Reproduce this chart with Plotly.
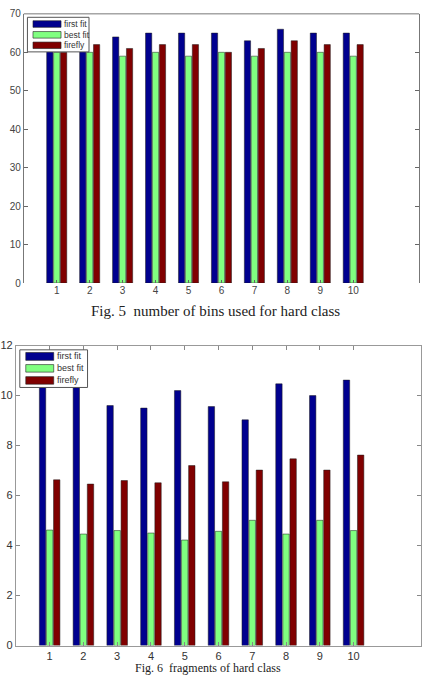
import plotly.graph_objects as go

W, H = 431, 681

groups = [1, 2, 3, 4, 5, 6, 7, 8, 9, 10]
series_names = ["first fit", "best fit", "firefly"]
series_colors = ["#00008F", "#80FF80", "#800000"]

# Fig. 5: number of bins used for hard class
bins_first = [64, 65, 64, 65, 65, 65, 63, 66, 65, 65]
bins_best = [60, 60, 59, 60, 59, 60, 59, 60, 60, 59]
bins_firefly = [60, 62, 61, 62, 62, 60, 61, 63, 62, 62]

# Fig. 6
frag_first = [10.6, 10.8, 9.6, 9.5, 10.2, 9.56, 9.03, 10.47, 10.0, 10.62]
frag_best = [4.62, 4.46, 4.6, 4.5, 4.22, 4.57, 5.01, 4.46, 5.01, 4.6]
frag_firefly = [6.63, 6.46, 6.6, 6.51, 7.2, 6.55, 7.02, 7.47, 7.02, 7.62]

top_yticks = [0, 10, 20, 30, 40, 50, 60, 70]
bot_yticks = [0, 2, 4, 6, 8, 10, 12]

caption1 = "Fig. 5  number of bins used for hard class"
caption2 = "Fig. 6  fragments of hard class"


def px(x):
    return x / W


def py(y):
    return 1 - y / H


fig = go.Figure()

top_data = [bins_first, bins_best, bins_firefly]
bot_data = [frag_first, frag_best, frag_firefly]

for name, color, vals in zip(series_names, series_colors, top_data):
    fig.add_trace(go.Bar(x=groups, y=vals, name=name, marker_color=color,
                         marker_line=dict(color="#1a1a1a", width=0.5),
                         xaxis="x", yaxis="y", showlegend=False))
for name, color, vals in zip(series_names, series_colors, bot_data):
    fig.add_trace(go.Bar(x=groups, y=vals, name=name, marker_color=color,
                         marker_line=dict(color="#1a1a1a", width=0.5),
                         xaxis="x2", yaxis="y2", showlegend=False))

tickfont = dict(family="Liberation Sans, Arial", size=10, color="#444444")
tickfont2 = dict(family="Liberation Sans, Arial", size=11, color="#333333")

fig.update_layout(
    width=W, height=H,
    margin=dict(l=0, r=0, t=0, b=0),
    paper_bgcolor="white", plot_bgcolor="white",
    barmode="group", bargap=0.37, bargroupgap=0.1,
    showlegend=False,
    xaxis=dict(domain=[px(19), px(419)], range=[0, 12], tickvals=groups,
               ticks="inside", ticklen=3, tickcolor="#666", showgrid=False,
               zeroline=False, showline=False, tickfont=tickfont,
               anchor="y", fixedrange=True),
    yaxis=dict(domain=[py(282), py(8)], range=[0, 70], tickvals=top_yticks,
               ticks="inside", ticklen=4, tickcolor="#666", showgrid=False,
               zeroline=False, showline=True, linecolor="#777", linewidth=1,
               mirror="ticks", tickfont=tickfont, anchor="x", fixedrange=True),
    xaxis2=dict(domain=[px(11), px(421)], range=[0, 12], tickvals=groups,
                ticks="inside", ticklen=4, tickcolor="#888", showgrid=False,
                zeroline=False, showline=True, linecolor="#999", linewidth=1,
                mirror="ticks", tickfont=tickfont2,
                anchor="y2", fixedrange=True),
    yaxis2=dict(domain=[py(651), py(345.7)], range=[0, 12], tickvals=bot_yticks,
                ticks="inside", ticklen=4, tickcolor="#888", showgrid=False,
                zeroline=False, showline=True, linecolor="#999", linewidth=1,
                mirror="ticks", tickfont=tickfont2,
                anchor="x2", fixedrange=True),
)

shapes = []
annotations = []

# top chart: top border line (no bottom line)
shapes.append(dict(type="line", xref="paper", yref="paper",
                   x0=px(19), x1=px(419), y0=py(8), y1=py(8),
                   line=dict(color="#777", width=1)))


def add_legend(box, sw_x0, sw_x1, sw_ys, text_x, fsize):
    bx0, by0, bx1, by1 = box
    shapes.append(dict(type="rect", xref="paper", yref="paper",
                       x0=px(bx0), x1=px(bx1), y0=py(by1), y1=py(by0),
                       fillcolor="white", line=dict(color="#555", width=1)))
    for (y0, y1), name, color in zip(sw_ys, series_names, series_colors):
        shapes.append(dict(type="rect", xref="paper", yref="paper",
                           x0=px(sw_x0), x1=px(sw_x1), y0=py(y1), y1=py(y0),
                           fillcolor=color, line=dict(color="#222", width=0.6)))
        annotations.append(dict(xref="paper", yref="paper", x=px(text_x),
                                y=py((y0 + y1) / 2), text=name, showarrow=False,
                                xanchor="left", yanchor="middle",
                                font=dict(family="Liberation Sans, Arial", size=fsize, color="#333")))


add_legend((22.7, 11.5, 85, 46.7), 28.3, 56.7,
           [(15, 21.7), (26, 32.7), (36.7, 43.3)], 57.5, 8.5)
add_legend((15, 350, 83.5, 388.3), 21, 49.3,
           [(352.7, 360.7), (365, 372.7), (377.3, 385)], 50.5, 9)

annotations.append(dict(xref="paper", yref="paper", x=px(213), y=py(310),
                        text=caption1, showarrow=False, xanchor="center",
                        yanchor="middle",
                        font=dict(family="Liberation Serif, Times New Roman", size=15, color="#222")))
annotations.append(dict(xref="paper", yref="paper", x=px(205), y=py(674),
                        text=caption2, showarrow=False, xanchor="center",
                        yanchor="middle", borderpad=0, borderwidth=0,
                        font=dict(family="Liberation Serif, Times New Roman", size=12, color="#222")))

fig.update_layout(shapes=shapes, annotations=annotations)

fig.write_html("out.html")
